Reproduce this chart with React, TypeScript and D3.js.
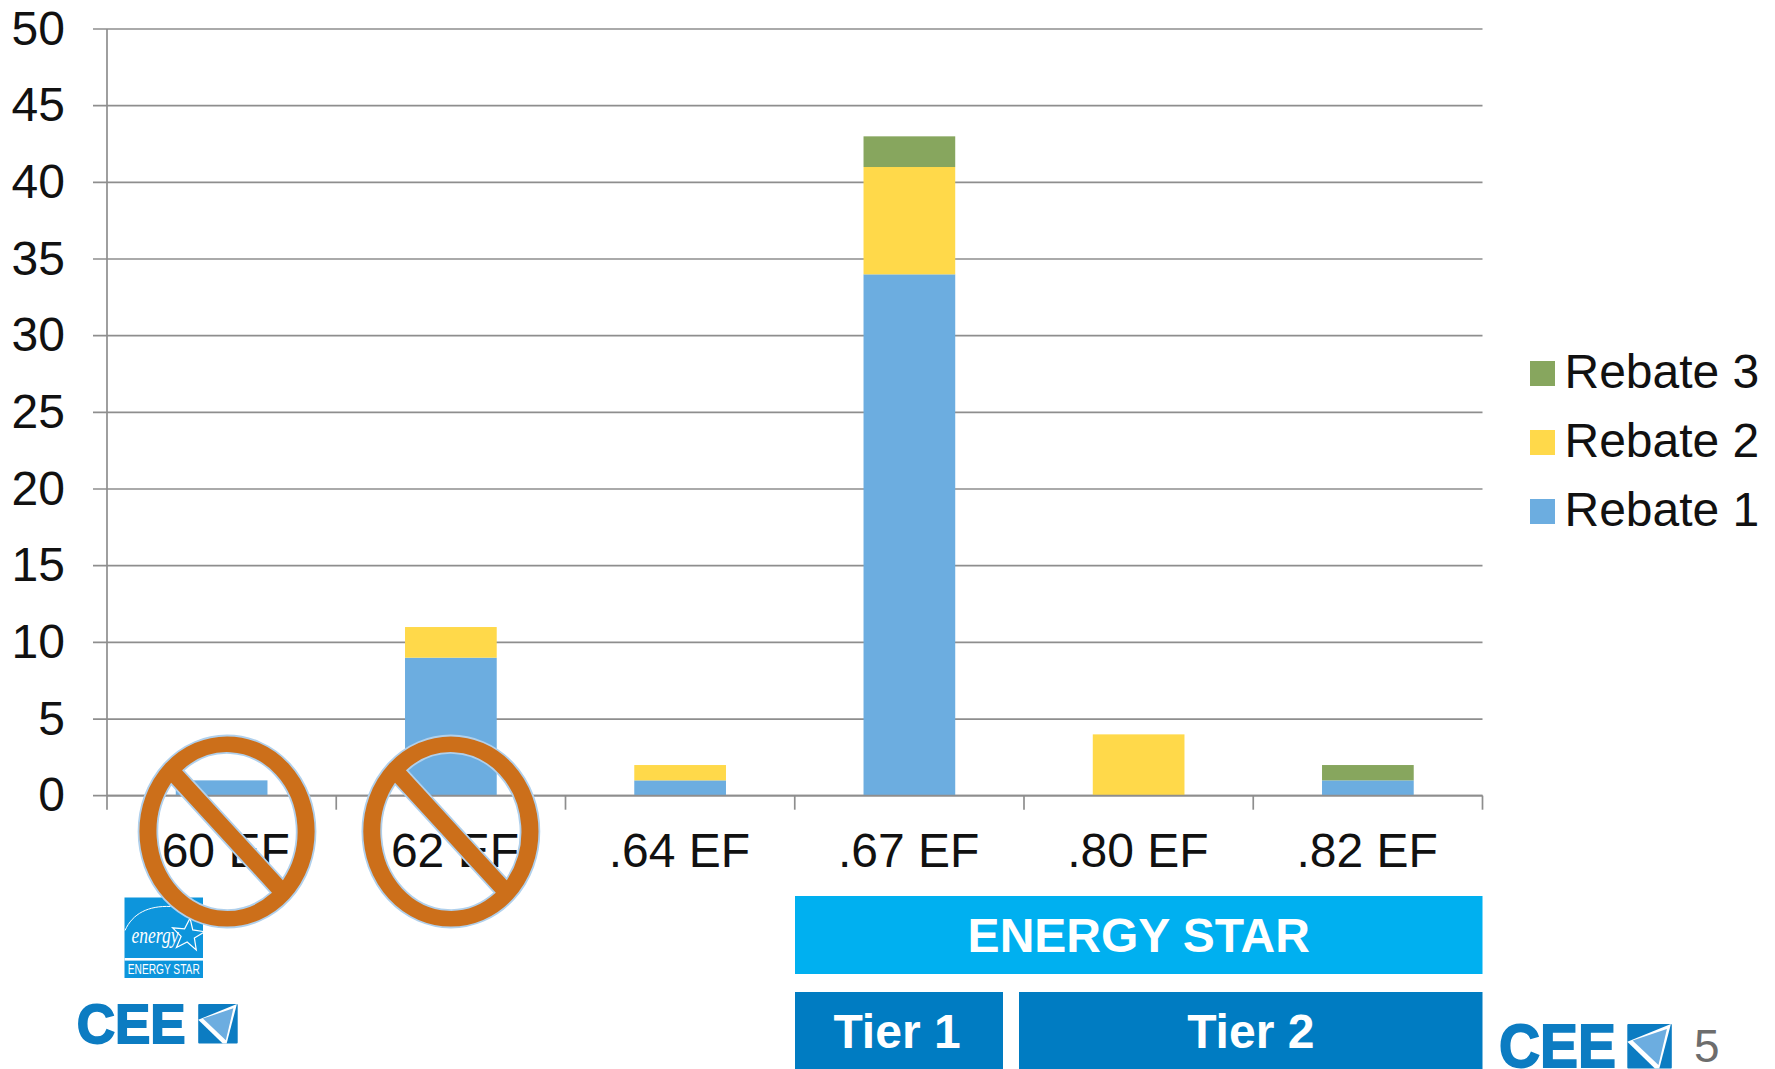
import { useEffect, useRef } from 'react'
import * as d3 from 'd3'

const categories = ['.60 EF', '.62 EF', '.64 EF', '.67 EF', '.80 EF', '.82 EF']
const rebate1 = [1, 9, 1, 34, 0, 1]
const rebate2 = [0, 2, 1, 7, 4, 0]
const rebate3 = [0, 0, 0, 2, 0, 1]
const seriesNames = ['Rebate 1', 'Rebate 2', 'Rebate 3']
const seriesColors = ['#6cade0', '#ffd94a', '#87a65e']
const yTicks = [0, 5, 10, 15, 20, 25, 30, 35, 40, 45, 50]
const banned = ['.60 EF', '.62 EF']

const FONT = '"Liberation Sans", Arial, sans-serif'
const W = 1775, H = 1069

// the CEE mark: lettering textW wide, then the square k wide at squareX
function ceeLogo(g: d3.Selection<SVGGElement, unknown, null, undefined>, textW: number, squareX: number, k: number, size: number) {
  const blue = '#0c7cc2'
  g.append('text').attr('x', 0).attr('y', size * 0.71).attr('font-family', FONT).attr('font-weight', 700).attr('font-size', size)
    .attr('textLength', textW).attr('lengthAdjust', 'spacingAndGlyphs')
    .attr('fill', blue).attr('stroke', blue).attr('stroke-width', 1.8).text('CEE')
  const s = g.append('g').attr('transform', `translate(${squareX},0)`)
  s.append('rect').attr('width', k).attr('height', k).attr('rx', 1).attr('fill', blue)
  s.append('polygon').attr('points', [[0.0, 0.4], [0.98, 0.0], [0.72, 1.0], [0.62, 1.0]].map(p => `${p[0]*k},${p[1]*k}`).join(' ')).attr('fill', '#fff')
  s.append('polygon').attr('points', [[0.12, 0.37], [0.89, 0.11], [0.7, 0.92]].map(p => `${p[0]*k},${p[1]*k}`).join(' ')).attr('fill', '#6cade0')
}

export default function App() {
  const ref = useRef<SVGSVGElement>(null)

  useEffect(() => {
    document.body.style.margin = '0'
    const svg = d3.select(ref.current!)
    svg.selectAll('*').remove()

    const x = d3.scaleBand<string>().domain(categories).range([107, 1482.5]).paddingInner(0.6).paddingOuter(0.3)
    const slot = d3.scaleBand<string>().domain(categories).range([107, 1482.5])
    const y = d3.scaleLinear().domain([0, 50]).range([795.7, 29])

    // grid
    svg.append('g').selectAll('line').data(yTicks).join('line')
      .attr('x1', 93).attr('x2', 1482.5).attr('y1', d => y(d)).attr('y2', d => y(d))
      .attr('stroke', '#8e8e8e').attr('stroke-width', 1.7)

    // bars
    const rows = categories.map((c, i) => ({ c, 'Rebate 1': rebate1[i], 'Rebate 2': rebate2[i], 'Rebate 3': rebate3[i] }))
    const stacked = d3.stack<any>().keys(seriesNames)(rows)
    stacked.forEach((layer, i) => {
      svg.append('g').selectAll('rect').data(layer).join('rect')
        .attr('x', d => x(d.data.c)!).attr('width', x.bandwidth())
        .attr('y', d => y(d[1])).attr('height', d => y(d[0]) - y(d[1]))
        .attr('fill', seriesColors[i])
    })

    // axes
    const left = svg.append('g').attr('transform', 'translate(107,0)')
      .call(d3.axisLeft(y).tickValues(yTicks).tickSize(14).tickPadding(28))
    left.select('.domain').attr('stroke', '#8e8e8e').attr('stroke-width', 1.7).attr('d', `M0,${y(50)}V${y(0) + 14}`)
    left.selectAll('.tick line').attr('stroke', 'none')
    left.selectAll('.tick text').attr('dy', 15).attr('font-family', FONT).attr('font-size', 48).attr('fill', '#111')

    const bottom = svg.append('g').attr('transform', `translate(0,${y(0)})`)
      .call(d3.axisBottom(slot).tickSize(0).tickPadding(0))
    bottom.select('.domain').attr('stroke', '#8e8e8e').attr('stroke-width', 1.7).attr('d', 'M107,0H1482.5')
    bottom.selectAll('.tick line').remove()
    // the dots of the two crossed-out labels sit under the rings
    bottom.selectAll<SVGTextElement, string>('.tick text').attr('x', d => banned.includes(d) ? -2.6 : -0.7)
      .attr('y', 71.5).attr('dy', 0).attr('font-family', FONT).attr('font-size', 48).attr('fill', '#111')
    bottom.append('g').selectAll('line').data(d3.range(1, categories.length + 1)).join('line')
      .attr('x1', i => 107 + i * slot.step()).attr('x2', i => 107 + i * slot.step())
      .attr('y1', 0).attr('y2', 14).attr('stroke', '#8e8e8e').attr('stroke-width', 1.7)

    // legend
    const legend = svg.append('g')
    ;[...seriesNames].reverse().forEach((name, i) => {
      const row = legend.append('g').attr('transform', `translate(1530,${361 + i * 69})`)
      row.append('rect').attr('width', 25).attr('height', 25).attr('fill', seriesColors[seriesNames.indexOf(name)])
      row.append('text').attr('x', 34.5).attr('y', 27).attr('font-family', FONT).attr('font-size', 48).attr('fill', '#111').text(name)
    })

    // program boxes under the axis
    const boxes: [string, number, number, number, number, string][] = [
      ['ENERGY STAR', 795, 1482.5, 896, 974, '#00b0f0'],
      ['Tier 1', 795, 1003, 992, 1069, '#007cc2'],
      ['Tier 2', 1019, 1482.5, 992, 1069, '#007cc2'],
    ]
    boxes.forEach(([label, x0, x1, y0, y1, fill]) => {
      svg.append('rect').attr('x', x0).attr('y', y0).attr('width', x1 - x0).attr('height', y1 - y0).attr('fill', fill)
      svg.append('text').attr('x', (x0 + x1) / 2 - (label === 'Tier 1' ? 2 : 0)).attr('y', y0 + 55.5).attr('text-anchor', 'middle')
        .attr('font-family', FONT).attr('font-weight', 700).attr('font-size', 48).attr('fill', '#fff').text(label)
    })

    // ENERGY STAR badge
    const badge = svg.append('g').attr('transform', 'translate(124.5,897.5)')
    const badgeBlue = '#0d95dc'
    badge.append('rect').attr('width', 78.5).attr('height', 80.5).attr('fill', badgeBlue)
    badge.append('rect').attr('y', 60.5).attr('width', 78.5).attr('height', 2.6).attr('fill', '#fff')
    badge.append('path').attr('d', 'M0.5,33 C8,16 24,8 46,9').attr('fill', 'none').attr('stroke', '#fff').attr('stroke-width', 1)
    badge.append('text').attr('x', 7).attr('y', 45).attr('font-family', '"Liberation Serif", serif').attr('font-style', 'italic')
      .attr('font-size', 24).attr('textLength', 47).attr('lengthAdjust', 'spacingAndGlyphs').attr('fill', '#fff').text('energy')
    const star = d3.lineRadial<number>().angle((_, i) => i * Math.PI / 5 + 0.12).radius((_, i) => i % 2 ? 7 : 17).curve(d3.curveLinearClosed)
    badge.append('path').attr('transform', 'translate(63.5,37.5)').attr('d', star(d3.range(10))!)
      .attr('fill', 'none').attr('stroke', '#fff').attr('stroke-width', 1.2)
    badge.append('text').attr('x', 39.25).attr('y', 76.8).attr('text-anchor', 'middle').attr('font-family', FONT)
      .attr('font-size', 14).attr('textLength', 72).attr('lengthAdjust', 'spacingAndGlyphs').attr('fill', '#fff').text('ENERGY STAR')

    // CEE logos and page number
    ceeLogo(svg.append('g').attr('transform', 'translate(76.7,1004)'), 109, 121.5, 39.5, 55)
    ceeLogo(svg.append('g').attr('transform', 'translate(1499,1024)'), 117, 128.3, 44.5, 61)
    svg.append('text').attr('x', 1694).attr('y', 1062).attr('font-family', FONT).attr('font-size', 46).attr('fill', '#6d6d6d').text('5')

    // no-go signs over the first two categories
    const rx = 88.5, ry = 96, irx = 69.7, iry = 78.7
    const ring = `M${-rx},0A${rx},${ry} 0 1 1 ${rx},0A${rx},${ry} 0 1 1 ${-rx},0Z`
      + `M-43.7,-61.2A${irx},${iry} 0 0 1 55.7,47.4Z`
      + `M43.7,61.2A${irx},${iry} 0 0 1 -55.7,-47.4Z`
    banned.forEach(c => {
      svg.append('path').attr('transform', `translate(${slot(c)! + slot.bandwidth() / 2 + (c === banned[0] ? 5.4 : 0)},831.5)`)
        .attr('d', ring).attr('fill', '#cc6f1a').attr('fill-rule', 'evenodd')
        .attr('stroke', '#b0d0ec').attr('stroke-width', 1.8)
    })
  }, [])

  return <svg ref={ref} width={W} height={H} style={{ display: 'block', background: '#fff' }} />
}
